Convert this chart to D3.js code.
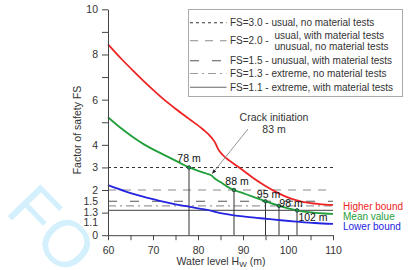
<!DOCTYPE html>
<html><head><meta charset="utf-8">
<script src="https://cdn.jsdelivr.net/npm/d3@7"></script>
<style>
body{margin:0;background:#fff;}
svg{display:block;font-family:"Liberation Sans",Arial,sans-serif;}
</style></head>
<body>
<svg id="c" width="410" height="270"></svg>
<script>
// ---------- data ----------
const higherX = [60,63,66,69,72,75,78,81,83,83.8,84.5,85.5,87,89,91,93,95,97,99,101,103,105,107,110];
const higherY = [8.45,7.8,7.2,6.62,6.08,5.6,5.15,4.7,4.32,4.1,3.8,3.55,3.3,3.02,2.72,2.43,2.18,1.95,1.75,1.6,1.49,1.42,1.38,1.34];
const meanX = [60,62,64,66,68,70,72,74,76,78,80,82,83,83.8,85,86.5,88,90,92,95,98,100,102,104,106,108,110];
const meanY = [5.22,4.88,4.57,4.28,4.02,3.8,3.6,3.4,3.2,3.0,2.85,2.72,2.64,2.5,2.35,2.15,2.0,1.86,1.72,1.5,1.3,1.19,1.1,1.03,0.99,0.96,0.94];
const lowerX = [60,62,64,66,68,70,72,74,76,78,80,82,83,84,85,87,90,93,96,99,102,106,110];
const lowerY = [2.22,2.07,1.93,1.81,1.7,1.6,1.5,1.41,1.33,1.26,1.19,1.12,1.08,1.02,0.98,0.91,0.83,0.77,0.71,0.65,0.6,0.54,0.5];

const seriesNames = ["Higher bound","Mean value","Lower bound"];
const seriesColors = ["#ee2424","#1f9e3a","#2424e0"];

const fsLevels = [3.0,2.0,1.5,1.3,1.1];
const fsLegend = ["FS=3.0 - usual, no material tests","FS=2.0 -","FS=1.5 - unusual, with material tests","FS=1.3 - extreme, no material tests","FS=1.1 - extreme, with material tests"];
const fsLegendExtra = ["usual, with material tests","unusual, no material tests"];
const fsDash = ["3,3","8,7","9,13","8,4,2,4",null];
const fsColor = ["#333","#8a8a8a","#555","#9a9a9a","#666"];

const critX = [78,88,95,98,102];
const critFS = [3.0,2.0,1.5,1.3,1.1];
const critLabels = ["78 m","88 m","95 m","98 m","102 m"];
const critLabelDx = [0,3,3,12,16];
const critLabelDy = [-5.5,-5.5,-3,1,11];

const crackText = ["Crack initiation","83 m"];
const crackX = 83.3;

const xTicks = [60,65,70,75,80,85,90,95,100,105,110];
const xTickLabels = ["60","","70","","80","","90","","100","","110"];
const yTicks = [0,1,2,3,4,5,6,7,8,9,10];
const yTickLabels = ["0","","2","3","4","","6","","8","","10"];
const yExtraLabels = ["1.5","1.3","1.1"];
const yExtraPos = [1.5,1.03,0.55];

// ---------- drawing ----------
const svg = d3.select("#c");
const x = d3.scaleLinear().domain([60,110]).range([108,333]);
const y = d3.scaleLinear().domain([0,10]).range([235.2,9.3]);

// watermark
svg.append("text").attr("transform","translate(4,212) rotate(46)")
  .attr("font-size",66).attr("fill","#d3f0fc").attr("font-family","Liberation Sans, Arial")
  .text("FO");

// reference FS lines
fsLevels.forEach((v,i)=>{
  svg.append("line").attr("x1",x(60)).attr("x2",x(110)).attr("y1",y(v)).attr("y2",y(v))
    .attr("stroke",fsColor[i]).attr("stroke-width",1.1)
    .attr("stroke-dasharray",fsDash[i]);
});

// vertical drop lines
critX.forEach((v,i)=>{
  svg.append("line").attr("x1",x(v)).attr("x2",x(v)).attr("y1",y(critFS[i])).attr("y2",y(0))
    .attr("stroke","#333").attr("stroke-width",1);
});

// curves
const line = d3.line().x(d=>x(d[0])).y(d=>y(d[1])).curve(d3.curveMonotoneX);
const series = [d3.zip(higherX,higherY), d3.zip(meanX,meanY), d3.zip(lowerX,lowerY)];
series.forEach((s,i)=>{
  svg.append("path").attr("d",line(s)).attr("fill","none").attr("stroke",seriesColors[i]).attr("stroke-width",1.8);
});

// markers and labels
critX.forEach((v,i)=>{
  svg.append("circle").attr("cx",x(v)).attr("cy",y(critFS[i])).attr("r",1.8)
    .attr("fill","#1f9e3a").attr("stroke","#234").attr("stroke-width",0.8);
  svg.append("text").attr("x",x(v)+critLabelDx[i]).attr("y",y(critFS[i])+critLabelDy[i])
    .attr("text-anchor","middle").attr("font-size",10.5).attr("fill","#111").text(critLabels[i]);
});

// axes
const xAxis = d3.axisBottom(x).tickValues(xTicks).tickSize(5).tickSizeOuter(0)
  .tickFormat((d,i)=>xTickLabels[i]);
const gx = svg.append("g").attr("transform",`translate(0,${y(0)})`).call(xAxis);
gx.selectAll("text").attr("font-size",10.5).attr("fill","#333").attr("dy","1.05em");
gx.selectAll("line,path").attr("stroke","#444");

const yAxis = d3.axisLeft(y).tickValues(yTicks).tickSize(6).tickSizeOuter(0)
  .tickFormat((d,i)=>yTickLabels[i]);
const gy = svg.append("g").attr("transform",`translate(${x(60)},0)`).call(yAxis);
gy.selectAll("text").attr("font-size",10.5).attr("fill","#333").attr("x",-10);
gy.selectAll("line,path").attr("stroke","#444");
yExtraLabels.forEach((t,i)=>{
  svg.append("text").attr("x",x(60)-10).attr("y",y(yExtraPos[i])).attr("dy","0.35em")
    .attr("text-anchor","end").attr("font-size",10.5).attr("fill","#333").text(t);
});

// axis titles
svg.append("text").attr("transform",`translate(81,130) rotate(-90)`).attr("text-anchor","middle")
  .attr("font-size",10.5).attr("fill","#333").text("Factor of safety FS");
const xt = svg.append("text").attr("x",221).attr("y",265).attr("text-anchor","middle")
  .attr("font-size",10.5).attr("fill","#333");
xt.append("tspan").text("Water level H");
xt.append("tspan").attr("font-size",8).attr("dy",1.5).text("W");
xt.append("tspan").attr("dy",-1.5).text(" (m)");

// crack initiation annotation
svg.append("defs").append("marker").attr("id","ah").attr("viewBox","0 0 10 10")
  .attr("refX",9).attr("refY",5).attr("markerWidth",5).attr("markerHeight",5).attr("orient","auto")
  .append("path").attr("d","M0,1 L10,5 L0,9 z").attr("fill","#222");
svg.append("line").attr("x1",248).attr("y1",129).attr("x2",x(crackX)-0.5).attr("y2",y(2.62)-2.5)
  .attr("stroke","#888").attr("stroke-width",0.9).attr("marker-end","url(#ah)");
crackText.forEach((t,i)=>{
  svg.append("text").attr("x",274).attr("y",121+i*12).attr("text-anchor","middle")
    .attr("font-size",10.5).attr("fill","#333").text(t);
});

// series labels (right)
seriesNames.forEach((n,i)=>{
  svg.append("text").attr("x",343).attr("y",209.5+i*10.4).attr("font-size",10)
    .attr("fill",seriesColors[i]).text(n);
});

// legend
const lg = svg.append("g");
lg.append("rect").attr("x",188.5).attr("y",9.5).attr("width",214).attr("height",87)
  .attr("fill","#fff").attr("stroke","#aaa").attr("stroke-width",1);
const rowY = [22.7,40.7,60.7,73.5,87.3];
fsLegend.forEach((t,i)=>{
  lg.append("line").attr("x1",190).attr("x2",226.5).attr("y1",rowY[i]).attr("y2",rowY[i])
    .attr("stroke",fsColor[i]).attr("stroke-width",1.1).attr("stroke-dasharray",fsDash[i]);
  lg.append("text").attr("x",230).attr("y",rowY[i]).attr("dy","0.35em").attr("font-size",10)
    .attr("fill","#333").text(t);
});
fsLegendExtra.forEach((t,i)=>{
  lg.append("text").attr("x",274.5).attr("y",35+i*11.7).attr("dy","0.35em").attr("font-size",10)
    .attr("fill","#333").text(t);
});
</script>
</body></html>
